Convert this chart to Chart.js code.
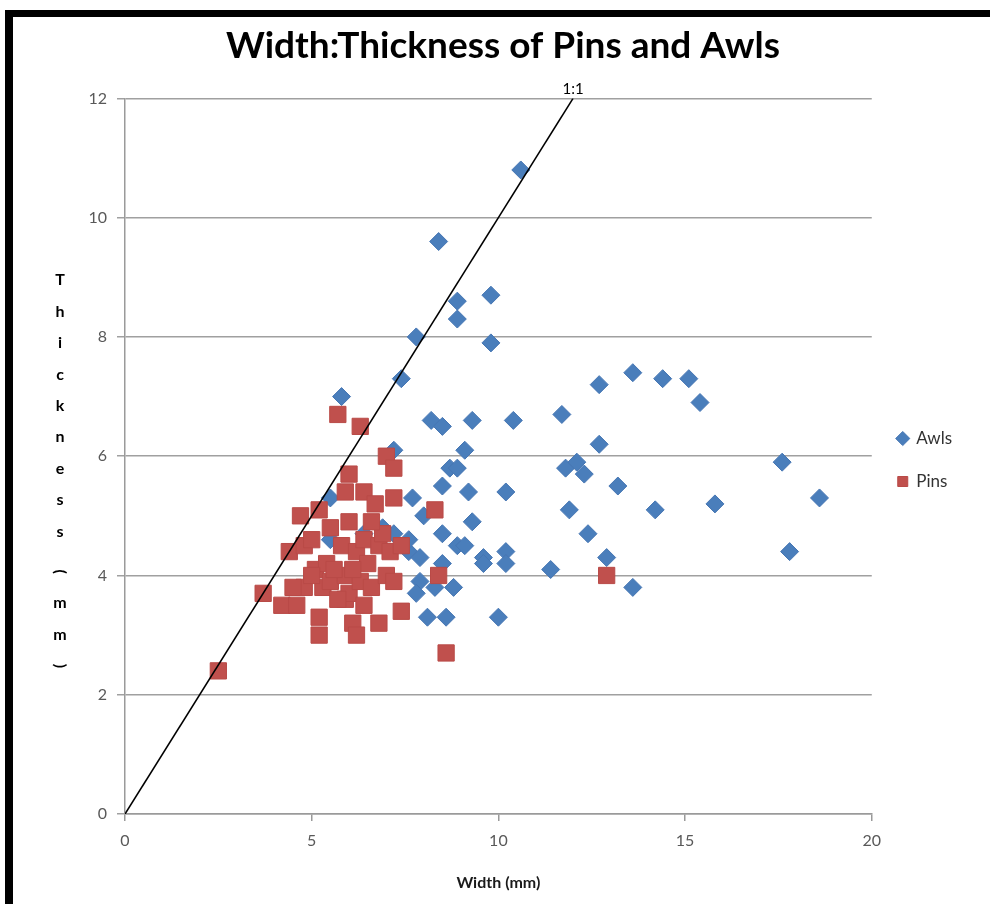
<!DOCTYPE html>
<html>
<head>
<meta charset="utf-8">
<script src="https://cdn.jsdelivr.net/npm/chart.js@4.4.1/dist/chart.umd.min.js"></script>
<style>
  html, body { margin: 0; padding: 0; background: #fff; overflow: hidden; }
  #wrap { position: relative; width: 990px; height: 904px; }
  #frameTop { position: absolute; left: 5px; top: 10px; width: 985px; height: 7px; background: #000; }
  #frameLeft { position: absolute; left: 5px; top: 10px; width: 8px; height: 894px; background: #000; }
</style>
</head>
<body>
<div id="wrap">
  <canvas id="pinsChart" width="990" height="904"></canvas>
  <div id="frameTop"></div>
  <div id="frameLeft"></div>
</div>
<script>
// Awls: width (mm) / thickness (mm)
const awlsWidth = [10.6, 8.4, 9.8, 8.9, 8.9, 7.8, 9.8, 7.4, 5.8, 13.6, 14.4, 15.1, 12.7, 15.4, 11.7, 10.4, 9.3, 8.2, 8.5, 9.1,
  12.7, 7.2, 17.6, 11.8, 12.1, 12.3, 8.7, 8.9, 13.2, 9.2, 10.2, 8.5, 7.7, 8.0, 11.9, 18.6, 15.8, 14.2, 9.3, 8.5,
  12.4, 8.9, 9.1, 10.2, 10.2, 9.6, 9.6, 11.4, 12.9, 17.8, 13.6, 8.5, 7.6, 7.9, 7.6, 7.9, 7.8, 8.3, 8.8, 8.1,
  8.6, 10.0, 5.5, 5.5, 6.4, 6.9, 7.2];
const awlsThickness = [10.8, 9.6, 8.7, 8.6, 8.3, 8.0, 7.9, 7.3, 7.0, 7.4, 7.3, 7.3, 7.2, 6.9, 6.7, 6.6, 6.6, 6.6, 6.5, 6.1,
  6.2, 6.1, 5.9, 5.8, 5.9, 5.7, 5.8, 5.8, 5.5, 5.4, 5.4, 5.5, 5.3, 5.0, 5.1, 5.3, 5.2, 5.1, 4.9, 4.7,
  4.7, 4.5, 4.5, 4.4, 4.2, 4.3, 4.2, 4.1, 4.3, 4.4, 3.8, 4.2, 4.4, 4.3, 4.6, 3.9, 3.7, 3.8, 3.8, 3.3,
  3.3, 3.3, 5.3, 4.6, 4.7, 4.8, 4.7];

// Pins: width (mm) / thickness (mm)
const pinsWidth = [2.5, 3.7, 4.2, 4.6, 4.4, 4.7, 4.8, 4.8, 5.0, 5.2, 5.1, 5.2, 5.2, 5.3, 5.5, 5.4, 5.5, 5.7, 5.8, 5.9,
  6.0, 6.0, 5.9, 5.9, 6.0, 6.1, 6.2, 6.3, 6.2, 6.3, 6.4, 6.4, 6.4, 6.5, 6.6, 6.7, 6.8, 6.8, 7.0, 7.0,
  7.1, 7.2, 7.2, 7.2, 7.4, 7.4, 8.3, 8.4, 8.6, 12.9, 5.6, 6.9, 6.1, 5.7, 6.6, 5.0, 4.5];
const pinsThickness = [2.4, 3.7, 3.5, 3.5, 4.4, 5.0, 4.5, 3.8, 4.6, 5.1, 4.1, 3.3, 3.0, 3.8, 4.8, 4.2, 3.9, 6.7, 4.5, 5.4,
  5.7, 4.9, 4.0, 3.6, 3.7, 3.2, 3.0, 6.5, 4.4, 3.9, 5.4, 4.6, 3.5, 4.2, 3.8, 5.2, 4.5, 3.2, 6.0, 4.0,
  4.4, 5.8, 5.3, 3.9, 4.5, 3.4, 5.1, 4.0, 2.7, 4.0, 4.1, 4.7, 4.1, 3.6, 4.9, 4.0, 3.8];

// 1:1 reference line
const oneToOneX = [0, 12];
const oneToOneY = [0, 12];

const xTicks = [0, 5, 10, 15, 20];
const yTicks = [0, 2, 4, 6, 8, 10, 12];

const chartTitle = "Width:Thickness of Pins and Awls";
const xTitle = "Width (mm)";
const yTitle = "Thickness (mm)";
const lineLabel = "1:1";

const toPoints = (xs, ys) => xs.map((x, i) => ({ x: x, y: ys[i] }));

const extraText = {
  id: "extraText",
  afterDatasetsDraw(chart) {
    const ctx = chart.ctx;
    const area = chart.chartArea;
    const line = chart.getDatasetMeta(2).data;
    const end = line[line.length - 1];
    ctx.save();
    ctx.fillStyle = "#000";
    ctx.textAlign = "center";
    ctx.font = "15px Lato";
    ctx.textBaseline = "bottom";
    ctx.fillText(lineLabel, end.x, end.y - 2);

    // stacked vertical axis title
    ctx.font = "bold 16px Lato";
    ctx.textBaseline = "middle";
    const step = 31.4;
    let y = (area.top + area.bottom) / 2 - 176;
    for (const ch of yTitle) {
      if (ch === " ") { y += 9; continue; }
      if (ch === "(" || ch === ")") {
        ctx.save();
        ctx.translate(60, y);
        ctx.rotate(Math.PI / 2);
        ctx.fillText(ch, 0, 0);
        ctx.restore();
      } else {
        ctx.fillText(ch, 60, y);
      }
      y += step;
    }
    ctx.restore();
  }
};

const config = {
  type: "scatter",
  data: {
    datasets: [
      {
        label: "Awls",
        data: toPoints(awlsWidth, awlsThickness),
        pointStyle: "rectRot",
        pointRadius: 9,
        pointHoverRadius: 9,
        backgroundColor: "#4a7ebb",
        borderColor: "#4676b3",
        borderWidth: 1,
        order: 2,
      },
      {
        label: "Pins",
        data: toPoints(pinsWidth, pinsThickness),
        pointStyle: "rect",
        pointRadius: 11.5,
        pointHoverRadius: 11.5,
        backgroundColor: "#c0504d",
        borderColor: "#b94a47",
        borderWidth: 1,
        order: 1,
      },
      {
        type: "line",
        label: lineLabel,
        data: toPoints(oneToOneX, oneToOneY),
        borderColor: "#000",
        borderWidth: 1.6,
        pointRadius: 0,
        fill: false,
        order: 0,
      },
    ],
  },
  options: {
    responsive: false,
    animation: false,
    layout: { padding: { left: 44, right: 28, top: 24, bottom: 8 } },
    scales: {
      x: {
        type: "linear",
        min: 0,
        max: 20,
        afterBuildTicks: (s) => { s.ticks = xTicks.map((v) => ({ value: v })); },
        afterFit: (s) => { s.height = 82; },
        grid: { drawOnChartArea: false, drawTicks: true, tickLength: 7, color: "#9a9a9a", lineWidth: 1.5 },
        border: { color: "#9a9a9a", width: 1.5 },
        ticks: { color: "#595959", font: { family: "Lato", size: 16 }, padding: 10 },
        title: { display: true, text: xTitle, color: "#1a1a1a", font: { family: "Lato", size: 16, weight: "bold" }, padding: { top: 4 } },
      },
      y: {
        type: "linear",
        min: 0,
        max: 12,
        afterBuildTicks: (s) => { s.ticks = yTicks.map((v) => ({ value: v })); },
        afterFit: (s) => { s.width = 81; },
        grid: { color: "#a0a0a0", lineWidth: 1.5, tickLength: 8 },
        border: { color: "#9a9a9a", width: 1.5 },
        ticks: { color: "#595959", font: { family: "Lato", size: 16 }, padding: 10 },
      },
    },
    plugins: {
      title: {
        display: true,
        text: chartTitle,
        color: "#000",
        font: { family: "Lato", size: 37, weight: "bold" },
        padding: { top: 0, bottom: 30 },
      },
      legend: {
        position: "right",
        align: "center",
        labels: {
          usePointStyle: true,
          boxWidth: 10,
          boxHeight: 10,
          padding: 26,
          color: "#333",
          font: { family: "Lato", size: 17 },
          filter: (item) => item.text !== lineLabel,
          sort: (a, b) => a.datasetIndex - b.datasetIndex,
        },
      },
      tooltip: { enabled: false },
    },
  },
  plugins: [extraText],
};

new Chart(document.getElementById("pinsChart"), config);
</script>
</body>
</html>
